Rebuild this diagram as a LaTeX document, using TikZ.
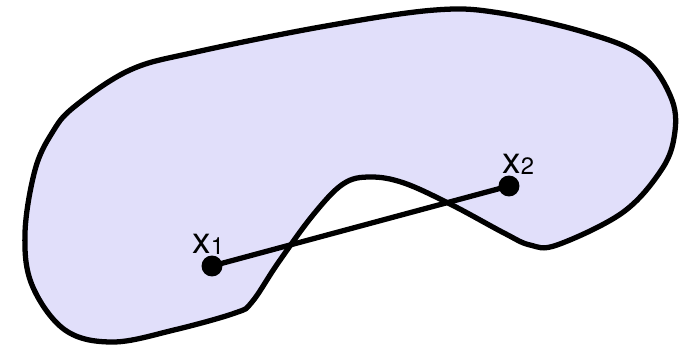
\documentclass[tikz,border=0pt]{standalone}
\usepackage{fontspec}
\setmainfont{TeX Gyre Heros}
\usepackage{xcolor}
\usepackage{tikz}
\definecolor{regionfill}{RGB}{225,223,250}
\tikzset{
  setregion/.style={draw=black, fill=regionfill, line width=3pt, line join=round},
  ptdot/.style={circle, fill=black, inner sep=0pt, minimum size=0.42cm},
  ptlabel/.style={anchor=base west, inner sep=0pt, font=\fontsize{21}{25}\selectfont},
  segline/.style={line width=3pt}
}
\newcommand{\ptname}[1]{x\raisebox{-1pt}{\fontsize{13.5}{15}\selectfont #1}}

\begin{document}
\begin{tikzpicture}[x=0.02cm,y=-0.02cm]
\useasboundingbox (0,0) rectangle (681,345);
% nonconvex set
\draw[setregion] plot[smooth cycle, tension=0.6] coordinates {
  (74,107) (130,70) (196,52) (326,26) (435,10) (500,13) (587,33) (643,57)
  (672,100) (674,138) (660,172) (622,213) (557,245) (530,245) (504,233)
  (452,205) (404,183) (370,177) (343,184) (313,215) (278,263) (252,302)
  (235,313) (174,330) (113,342) (65,330) (32,285) (25,233) (35,170) (52,133)};
\node[ptdot] (x1) at (212,266) {};
\node[ptdot] (x2) at (509,186) {};
\node[ptlabel] (x1lbl) at (192,253) {\ptname{1}};
\node[ptlabel] (x2lbl) at (502,173) {\ptname{2}};
\draw[segline] (x1.center) -- (x2.center);
\end{tikzpicture}
\end{document}
